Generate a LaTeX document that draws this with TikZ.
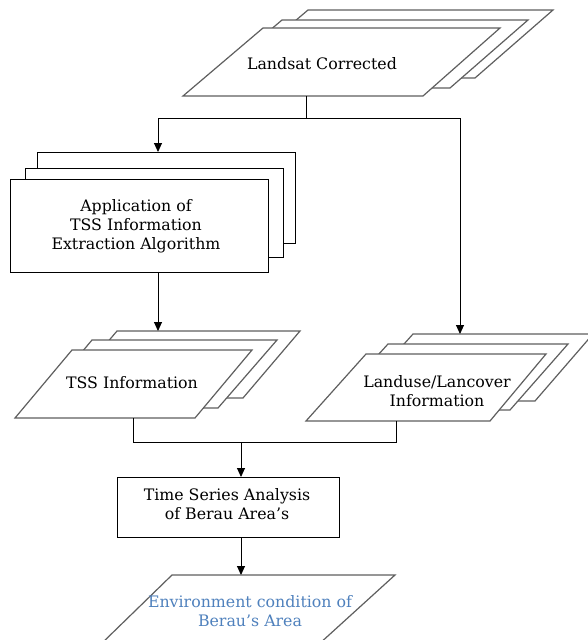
\documentclass[tikz,border=0pt]{standalone}
\usepackage{fontspec}
\setmainfont{DejaVu Serif}
\usetikzlibrary{arrows.meta}
\definecolor{envblue}{RGB}{79,129,189}
\definecolor{pgray}{RGB}{95,95,95}

\begin{document}
\begin{tikzpicture}[x=1pt,y=-1pt,
  para/.style={draw=pgray,fill=white,line width=1.2pt},
  box/.style={draw=black,fill=white,line width=0.9pt},
  flow/.style={draw=black,line width=0.9pt},
  arr/.style={flow,-{Triangle[length=9pt,width=8pt]}},
  lbl/.style={align=center,font=\fontsize{15.8}{19}\selectfont,inner sep=0pt}]
  \useasboundingbox (0,0) rectangle (588,640);
  \clip (0,0) rectangle (588,640);
  % Landsat corrected (stack)
  \draw[para] (228,78) -- (475,78) -- (553,10) -- (308,10) -- cycle;
  \draw[para] (202,88) -- (450,88) -- (528,20) -- (282,20) -- cycle;
  \draw[para] (183,96) -- (423,96) -- (500,28) -- (263,28) -- cycle;
  \node[lbl] (landsat) at (322,64) {Landsat Corrected};
  % application of algorithm (stack)
  \draw[box] (37,152) rectangle (295,243);
  \draw[box] (25,168) rectangle (283,257);
  \draw[box] (10,179) rectangle (268,272);
  \node[lbl] (app) at (136,226) {Application of\\TSS Information\\Extraction Algorithm};
  % TSS information (stack)
  \draw[para] (60,398) -- (243,398) -- (300,331) -- (117,331) -- cycle;
  \draw[para] (35,408) -- (218,408) -- (277,340) -- (92,340) -- cycle;
  \draw[para] (15,418) -- (195,418) -- (252,350) -- (72,350) -- cycle;
  \node[lbl] (tss) at (132,383) {TSS Information};
  % landuse/landcover (stack)
  \draw[para] (353,401) -- (535,401) -- (593,334) -- (413,334) -- cycle;
  \draw[para] (328,410) -- (510,410) -- (568,344) -- (388,344) -- cycle;
  \draw[para] (306,421) -- (490,421) -- (546,354) -- (366,354) -- cycle;
  \node[lbl] (landuse) at (437,391) {Landuse/Lancover\\Information};
  % time series analysis
  \draw[box] (117,477) rectangle (339,537);
  \node[lbl] (tsa) at (227,504) {Time Series Analysis\\of Berau Area's};
  % environment condition
  \draw[para] (100,645) -- (318,645) -- (395,575) -- (172,575) -- cycle;
  \node[lbl,text=envblue] (env) at (250,611) {Environment condition of\\Berau's Area};
  % connectors
  \coordinate (lsout) at (306,96);
  \coordinate (split) at (306,118);
  \coordinate (appin) at (158,152);
  \coordinate (luin) at (460,334);
  \coordinate (appout) at (158,272);
  \coordinate (tssin) at (158,331);
  \coordinate (tssout) at (133,418);
  \coordinate (luout) at (396,421);
  \coordinate (merge) at (241,442);
  \coordinate (tsain) at (241,477);
  \coordinate (tsaout) at (241,537);
  \coordinate (envin) at (241,575);
  \draw[arr] (lsout) -- (split) -| (appin);
  \draw[arr] (split) -| (luin);
  \draw[arr] (appout) -- (tssin);
  \draw[flow] (tssout) |- (merge);
  \draw[flow] (luout) |- (merge);
  \draw[arr] (merge) -- (tsain);
  \draw[arr] (tsaout) -- (envin);
\end{tikzpicture}
\end{document}
